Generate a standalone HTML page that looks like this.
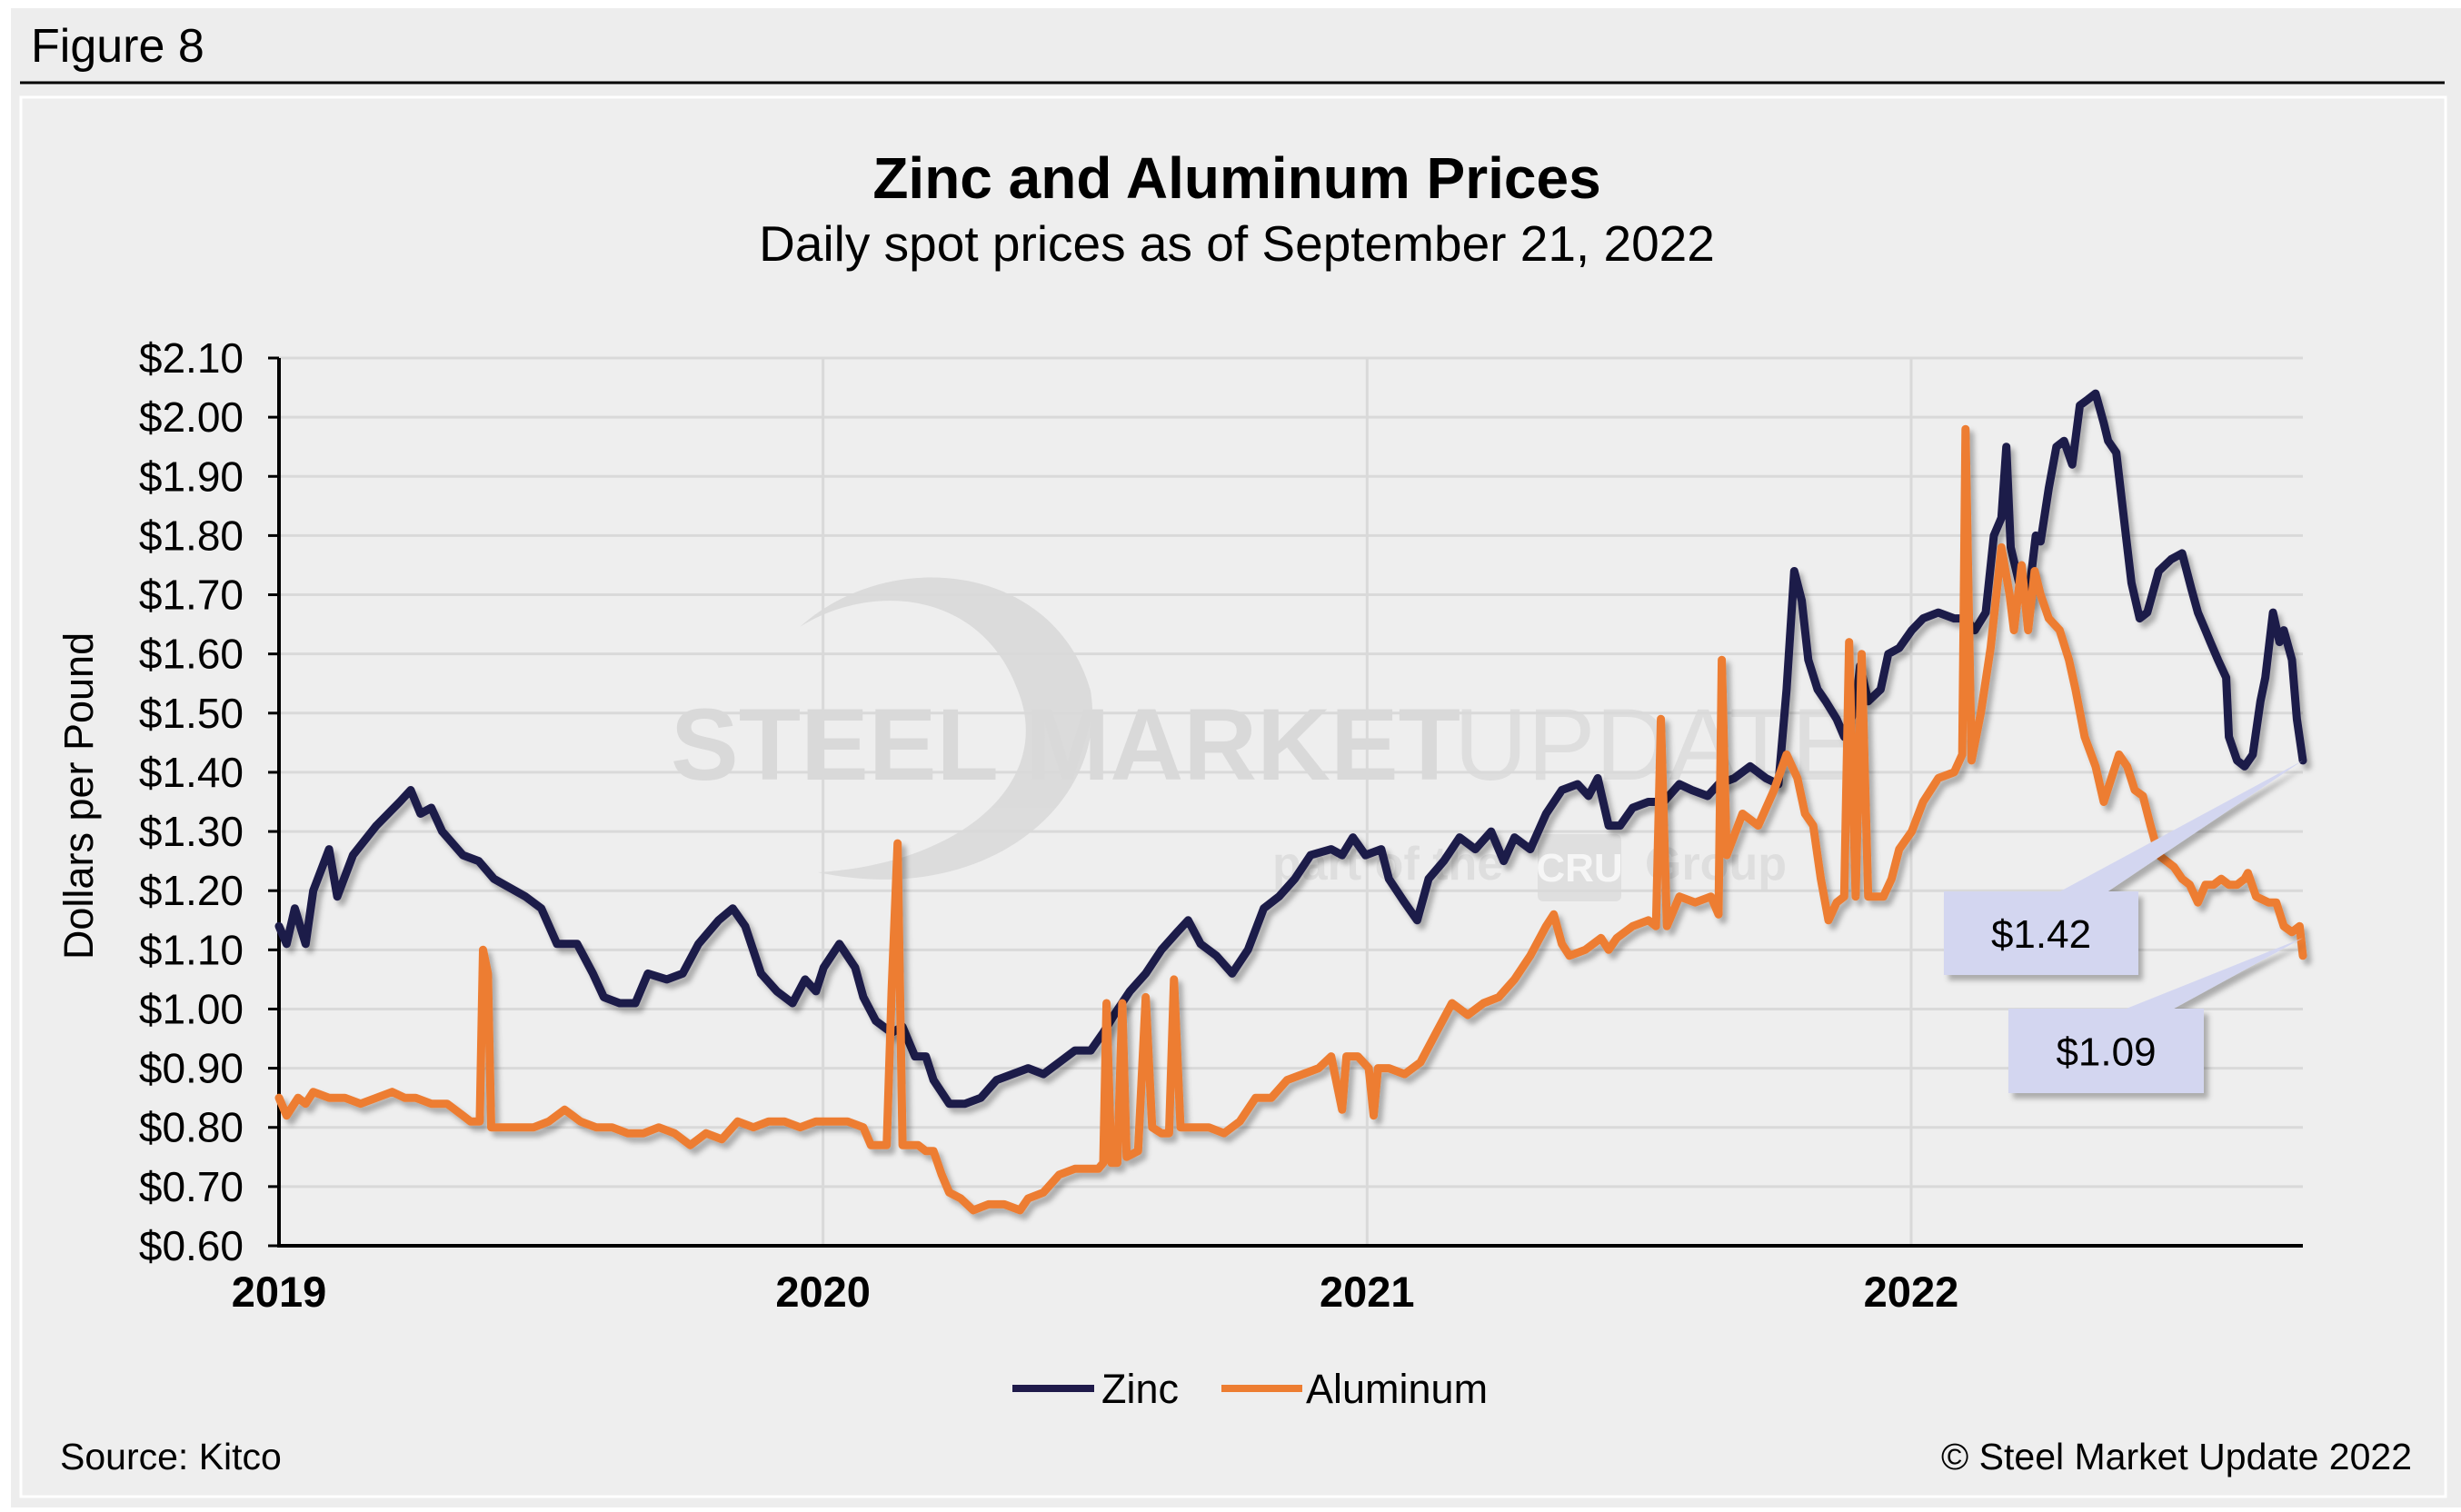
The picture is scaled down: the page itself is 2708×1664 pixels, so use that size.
<!DOCTYPE html>
<html><head><meta charset="utf-8"><style>
html,body{margin:0;padding:0;background:#fff;}
body{width:2708px;height:1659px;overflow:hidden;font-family:"Liberation Sans",Arial,sans-serif;}
</style></head><body>
<svg id="chart" width="2708" height="1659" viewBox="0 0 2708 1659" xmlns="http://www.w3.org/2000/svg" font-family="Liberation Sans, Arial, sans-serif">
<defs>
<filter id="sh" x="-5%" y="-5%" width="110%" height="120%"><feDropShadow dx="5" dy="6" stdDeviation="3" flood-color="#000" flood-opacity="0.28"/></filter>
</defs>
<rect x="12" y="9" width="2696" height="1650" fill="#ededed"/>
<text x="34" y="68" font-size="52" fill="#000">Figure 8</text>
<line x1="22" y1="91" x2="2690" y2="91" stroke="#000" stroke-width="3"/>
<rect x="23" y="107" width="2668" height="1540" fill="#eeeeee" stroke="#fff" stroke-width="3"/>
<text x="1361" y="218" font-size="64" font-weight="bold" text-anchor="middle">Zinc and Aluminum Prices</text>
<text x="1361" y="287" font-size="55" text-anchor="middle">Daily spot prices as of September 21, 2022</text>
<g opacity="0.5">
<path d="M880,690 C980,600 1160,620 1200,760 C1220,880 1090,1000 900,960 C1060,950 1160,860 1120,760 C1080,650 960,640 880,690 Z" fill="#c9c9c9"/>
<text x="738" y="858" font-size="112" font-weight="bold" fill="#c6c6c6">STEEL MARKET</text>
<text x="1600" y="858" font-size="112" fill="#d0d0d0">UPDATE</text>
<text x="1400" y="968" font-size="52" font-weight="bold" fill="#cfcfcf">part of the</text>
<rect x="1692" y="918" width="92" height="74" rx="6" fill="#d2d2d2"/>
<text x="1738" y="970" font-size="44" font-weight="bold" fill="#fff" text-anchor="middle">CRU</text>
<text x="1810" y="968" font-size="52" font-weight="bold" fill="#cfcfcf">Group</text>
</g>
<g id="grid"></g>
<g id="axes"></g>
<g id="series"></g>
<g id="callouts"></g>
<text transform="translate(102,876) rotate(-90)" font-size="45" text-anchor="middle">Dollars per Pound</text>
<g>
<line x1="1114" y1="1528" x2="1204" y2="1528" stroke="#1f1a4a" stroke-width="8"/>
<text x="1212" y="1544" font-size="45">Zinc</text>
<line x1="1344" y1="1528" x2="1433" y2="1528" stroke="#ed7d31" stroke-width="8"/>
<text x="1437" y="1544" font-size="45">Aluminum</text>
</g>
<text x="66" y="1617" font-size="41">Source: Kitco</text>
<text x="2654" y="1617" font-size="41" text-anchor="end">© Steel Market Update 2022</text>
</svg>
<script>
const yTicks=[0.6,0.7,0.8,0.9,1.0,1.1,1.2,1.3,1.4,1.5,1.6,1.7,1.8,1.9,2.0,2.1];
const yearLabels=["2019","2020","2021","2022"];
const zincT=[0,.014,.029,.049,.063,.092,.107,.136,.179,.222,.242,.260,.280,.300,.338,.367,.395,.453,.482,.511,.548,.577,.597,.626,.655,.678,.713,.742,.771,.808,.834,.857,.886,.915,.944,.967,.987,1.001,1.030,1.059,1.074,1.097,1.126,1.146,1.169,1.189,1.203,1.232,1.261,1.290,1.319,1.348,1.377,1.405,1.434,1.463,1.492,1.515,1.535,1.564,1.593,1.622,1.651,1.671,1.694,1.723,1.752,1.781,1.810,1.838,1.867,1.896,1.934,1.954,1.974,1.997,2.026,2.040,2.069,2.092,2.113,2.141,2.170,2.199,2.228,2.251,2.271,2.300,2.329,2.358,2.387,2.407,2.424,2.444,2.465,2.488,2.517,2.545,2.574,2.597,2.626,2.646,2.675,2.704,2.733,2.756,2.771,2.785,2.799,2.811,2.828,2.843,2.863,2.877,2.898,2.906,2.921,2.944,2.958,2.978,3.001,3.022,3.050,3.079,3.100,3.117,3.137,3.152,3.166,3.175,3.183,3.201,3.215,3.229,3.238,3.253,3.267,3.281,3.296,3.310,3.325,3.339,3.354,3.362,3.377,3.391,3.405,3.420,3.434,3.455,3.478,3.498,3.515,3.527,3.541,3.550,3.564,3.579,3.584,3.599,3.613,3.628,3.642,3.651,3.665,3.677,3.685,3.700,3.709,3.720];
const zincV=[1.14,1.11,1.17,1.11,1.20,1.27,1.19,1.26,1.31,1.35,1.37,1.33,1.34,1.30,1.26,1.25,1.22,1.19,1.17,1.11,1.11,1.06,1.02,1.01,1.01,1.06,1.05,1.06,1.11,1.15,1.17,1.14,1.06,1.03,1.01,1.05,1.03,1.07,1.11,1.07,1.02,0.98,0.96,0.97,0.92,0.92,0.88,0.84,0.84,0.85,0.88,0.89,0.90,0.89,0.91,0.93,0.93,0.96,0.99,1.03,1.06,1.10,1.13,1.15,1.11,1.09,1.06,1.10,1.17,1.19,1.22,1.26,1.27,1.26,1.29,1.26,1.27,1.22,1.18,1.15,1.22,1.25,1.29,1.27,1.30,1.25,1.29,1.27,1.33,1.37,1.38,1.36,1.39,1.31,1.31,1.34,1.35,1.35,1.38,1.37,1.36,1.38,1.39,1.41,1.39,1.38,1.54,1.74,1.69,1.59,1.54,1.52,1.49,1.46,1.51,1.58,1.52,1.54,1.60,1.61,1.64,1.66,1.67,1.66,1.66,1.64,1.67,1.80,1.83,1.95,1.78,1.71,1.69,1.80,1.79,1.88,1.95,1.96,1.92,2.02,2.03,2.04,1.99,1.96,1.94,1.83,1.72,1.66,1.67,1.74,1.76,1.77,1.71,1.67,1.64,1.62,1.59,1.56,1.46,1.42,1.41,1.43,1.52,1.56,1.67,1.62,1.64,1.59,1.49,1.42];
const aluT=[0,.014,.035,.049,.063,.092,.121,.150,.179,.208,.231,.251,.280,.309,.338,.352,.369,.375,.384,.390,.410,.439,.468,.496,.525,.554,.583,.612,.641,.670,.698,.727,.756,.785,.814,.843,.872,.900,.929,.958,.987,1.016,1.045,1.074,1.088,1.117,1.126,1.137,1.146,1.160,1.175,1.189,1.203,1.218,1.232,1.253,1.276,1.304,1.333,1.362,1.377,1.405,1.434,1.463,1.492,1.506,1.515,1.521,1.530,1.541,1.550,1.558,1.579,1.593,1.605,1.622,1.636,1.645,1.657,1.680,1.709,1.737,1.766,1.795,1.824,1.853,1.882,1.911,1.934,1.954,1.962,1.983,2.003,2.012,2.020,2.040,2.069,2.098,2.127,2.156,2.185,2.214,2.242,2.271,2.300,2.329,2.343,2.358,2.372,2.401,2.430,2.444,2.459,2.488,2.517,2.531,2.540,2.551,2.574,2.603,2.632,2.646,2.652,2.661,2.690,2.719,2.748,2.771,2.791,2.805,2.820,2.834,2.848,2.863,2.877,2.886,2.898,2.909,2.921,2.949,2.964,2.978,3.001,3.022,3.050,3.079,3.094,3.100,3.111,3.128,3.146,3.166,3.181,3.189,3.203,3.215,3.227,3.238,3.253,3.273,3.290,3.302,3.319,3.339,3.354,3.368,3.382,3.397,3.411,3.426,3.440,3.455,3.469,3.483,3.498,3.512,3.527,3.541,3.556,3.570,3.584,3.599,3.613,3.619,3.634,3.657,3.671,3.685,3.700,3.714,3.720];
const aluV=[0.85,0.82,0.85,0.84,0.86,0.85,0.85,0.84,0.85,0.86,0.85,0.85,0.84,0.84,0.82,0.81,0.81,1.10,1.06,0.80,0.80,0.80,0.80,0.81,0.83,0.81,0.80,0.80,0.79,0.79,0.80,0.79,0.77,0.79,0.78,0.81,0.80,0.81,0.81,0.80,0.81,0.81,0.81,0.80,0.77,0.77,1.03,1.28,0.77,0.77,0.77,0.76,0.76,0.72,0.69,0.68,0.66,0.67,0.67,0.66,0.68,0.69,0.72,0.73,0.73,0.73,0.74,1.01,0.74,0.74,1.01,0.75,0.76,1.02,0.80,0.79,0.79,1.05,0.80,0.80,0.80,0.79,0.81,0.85,0.85,0.88,0.89,0.90,0.92,0.83,0.92,0.92,0.90,0.82,0.90,0.90,0.89,0.91,0.96,1.01,0.99,1.01,1.02,1.05,1.09,1.14,1.16,1.11,1.09,1.10,1.12,1.10,1.12,1.14,1.15,1.14,1.49,1.14,1.19,1.18,1.19,1.16,1.59,1.26,1.33,1.31,1.37,1.43,1.39,1.33,1.31,1.22,1.15,1.18,1.19,1.62,1.19,1.60,1.19,1.19,1.22,1.27,1.30,1.35,1.39,1.40,1.43,1.98,1.42,1.50,1.61,1.78,1.70,1.64,1.75,1.64,1.74,1.70,1.66,1.64,1.59,1.54,1.46,1.41,1.35,1.39,1.43,1.41,1.37,1.36,1.31,1.26,1.25,1.24,1.22,1.21,1.18,1.21,1.21,1.22,1.21,1.21,1.22,1.23,1.19,1.18,1.18,1.14,1.13,1.14,1.09];
const calloutValues=[1.42,1.09];
const calloutTargets=[1.42,1.12];

const NS="http://www.w3.org/2000/svg";
const X0=307,X1=2534,Y0=1371,Y1=394,TMAX=3.72,VMIN=0.6,VMAX=2.1;
const xs=t=>X0+(t/TMAX)*(X1-X0);
const ys=v=>Y0-(v-VMIN)/(VMAX-VMIN)*(Y0-Y1);
function mk(tag,attrs,parent){const e=document.createElementNS(NS,tag);for(const k in attrs)e.setAttribute(k,attrs[k]);parent.appendChild(e);return e;}
const grid=document.getElementById('grid'),axes=document.getElementById('axes'),series=document.getElementById('series'),call=document.getElementById('callouts');
yTicks.forEach((v,i)=>{
  const y=ys(v);
  if(i>0){const g=mk('line',{x1:X0,y1:y,x2:X1,y2:y,stroke:'#d9d9d9','stroke-width':3},grid);
  
  }
  const tk=mk('line',{x1:X0-12,y1:y,x2:X0,y2:y,stroke:'#000','stroke-width':3},axes);
  
  
  const tx=mk('text',{x:268,y:y+16,'font-size':46,'text-anchor':'end'},axes);
  tx.textContent='$'+v.toFixed(2);
  
  
});
yearLabels.forEach((lab,i)=>{
  const x=xs(i);
  if(i>0){const g=mk('line',{x1:x,y1:Y1,x2:x,y2:Y0,stroke:'#d9d9d9','stroke-width':3},grid);
  
  }
  const tx=mk('text',{x:x,y:1438,'font-size':47,'font-weight':'bold','text-anchor':'middle'},axes);
  tx.textContent=lab;
  
  
});
const ax=mk('path',{d:`M${X0},${Y1} V${Y0} H${X1}`,fill:'none',stroke:'#000','stroke-width':4},axes);


function line(T,V,color,name){
  const d=T.map((t,i)=>(i?'L':'M')+xs(t).toFixed(1)+','+ys(V[i]).toFixed(1)).join(' ');
  const p=mk('path',{d:d,fill:'none',stroke:color,'stroke-width':9,'stroke-linejoin':'round','stroke-linecap':'round',filter:'url(#sh)'},series);
  
  
}
line(zincT,zincV,'#1f1a4a','zinc-line');
line(aluT,aluV,'#ed7d31','aluminum-line');
const boxes=[[2139,981,214,92],[2210,1110,215,93]];
calloutValues.forEach((v,i)=>{
  const [bx,by,bw,bh]=boxes[i];
  const tx=xs(TMAX),ty=ys(calloutTargets[i]);
  const g=mk('g',{filter:'url(#sh)'},call);
  
  
  const pol=mk('polygon',{points:`${bx+bw*0.58},${by+2} ${bx+bw*0.83},${by+2} ${tx},${ty}`,fill:'#d3d6f0'},g);
  
  
  const r=mk('rect',{x:bx,y:by,width:bw,height:bh,fill:'#d3d6f0'},g);
  
  
  const t=mk('text',{x:bx+bw/2,y:by+bh/2+16,'font-size':44,'text-anchor':'middle'},call);
  t.textContent='$'+v.toFixed(2);
  
  
});
</script>
</body></html>
